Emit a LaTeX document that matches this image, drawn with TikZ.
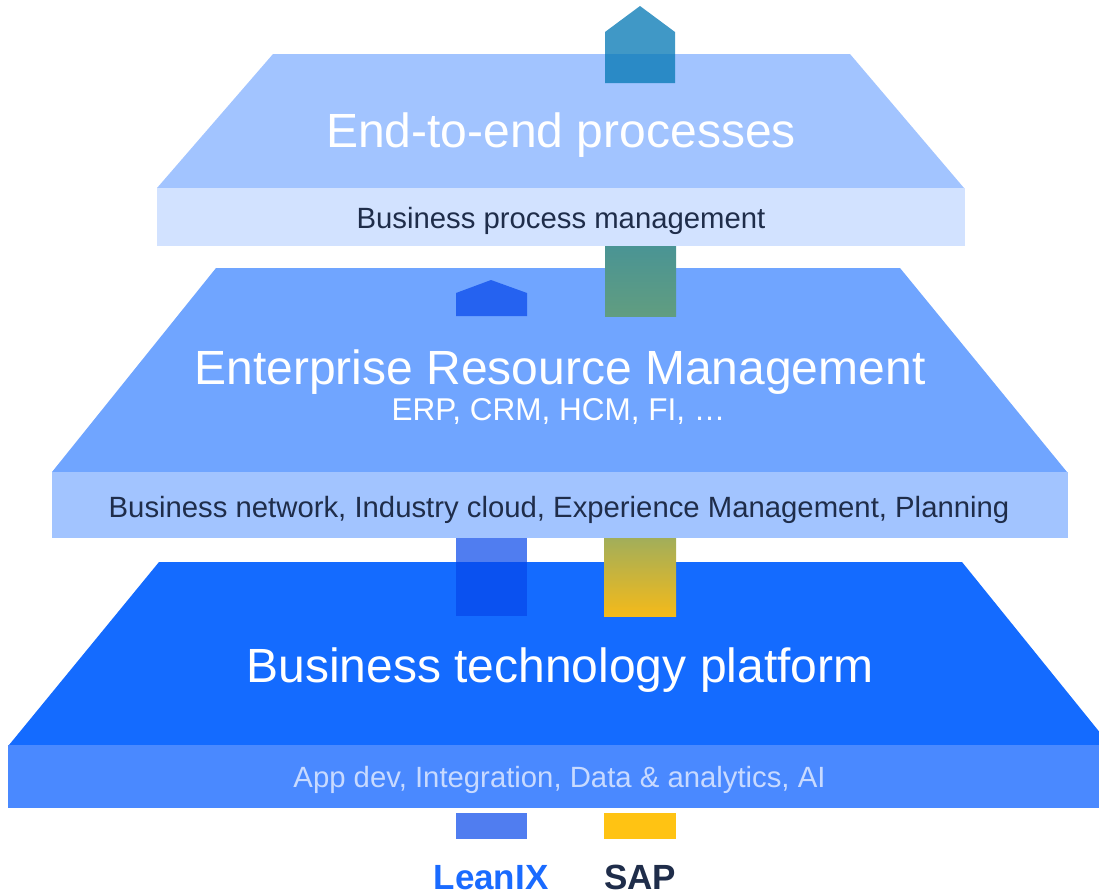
\documentclass[tikz,border=0pt]{standalone}
\usepackage{fontspec}
\setmainfont{Liberation Sans}
\definecolor{trapA}{HTML}{A2C4FF}
\definecolor{bandA}{HTML}{D2E2FF}
\definecolor{trapB}{HTML}{70A5FF}
\definecolor{bandB}{HTML}{A2C4FF}
\definecolor{trapC}{HTML}{146BFF}
\definecolor{bandC}{HTML}{4A89FF}
\definecolor{darktext}{HTML}{1F2D4A}
\definecolor{lighttext}{HTML}{C8DAFF}
\definecolor{leanblue}{RGB}{6,70,234}
\definecolor{leanlabel}{HTML}{1A6BFF}
\definecolor{sapteal}{RGB}{7,121,181}
\definecolor{greentop}{HTML}{4A9494}
\definecolor{greenbot}{HTML}{619D80}
\definecolor{olivetop}{HTML}{A2AE5A}
\definecolor{yellowbot}{HTML}{F4BA1A}
\definecolor{sapyellow}{HTML}{FFC313}
\begin{document}
\begin{tikzpicture}[x=1pt,y=-1pt,
  txt/.style={inner sep=0pt,anchor=base},
  bigtxt/.style={txt,text=white,font=\fontsize{48}{52}\selectfont},
  bandtxt/.style={txt,text=darktext,font=\fontsize{29.3}{33}\selectfont},
  lean/.style={fill=leanblue,fill opacity=0.7},
  labeltxt/.style={txt,text depth=0pt,font=\fontsize{35}{39}\selectfont\bfseries}]
\useasboundingbox (0,0) rectangle (1099,895);
\clip (0,0) rectangle (1099,895);
% top layer
\fill[trapA] (273,54) -- (850,54) -- (964,188) -- (157,188) -- cycle;
\fill[bandA] (157,188) rectangle (965,246);
% middle layer
\fill[trapB] (216,268) -- (900,268) -- (1067,472) -- (52,472) -- cycle;
\fill[bandB] (52,472) rectangle (1068,538);
% bottom layer
\fill[trapC] (159,562) -- (962,562) -- (1110,745) -- (9,745) -- cycle;
\fill[bandC] (8,745) rectangle (1110,808);
% SAP path
\fill[sapteal,fill opacity=0.77] (605,83) -- (605,32) -- (640,6) -- (675,32) -- (675,83) -- cycle;
\shade[top color=greentop,bottom color=greenbot] (605,246) rectangle (676,316);
\shade[top color=olivetop,bottom color=yellowbot] (604,538) rectangle (676,616);
\fill[sapyellow] (604,813) rectangle (676,839);
% LeanIX path
\fill[lean] (456,316) -- (456,293) -- (491,280) -- (527,293) -- (527,316) -- cycle;
\fill[lean] (456,538) rectangle (527,616);
\fill[lean] (456,813) rectangle (527,839);
% texts
\node[bigtxt] (e2e) at (561,147) {End-to-end processes};
\node[bandtxt] (bpm) at (561,228) {Business process management};
\node[bigtxt] (erm) at (560,384) {Enterprise Resource Management};
\node[txt,text=white,font=\fontsize{31.5}{34}\selectfont] (erp) at (558.5,420) {ERP, CRM, HCM, FI, …};
\node[bandtxt] (bn) at (559,517) {Business network, Industry cloud, Experience Management, Planning};
\node[bigtxt] (btp) at (560,682) {Business technology platform};
\node[txt,text=lighttext,font=\fontsize{29.3}{33}\selectfont] (app) at (559.5,787) {App dev, Integration, Data \& analytics, AI};
\node[labeltxt,text=leanlabel] (leanix) at (491,889) {LeanIX};
\node[labeltxt,text=darktext] (sap) at (640,889) {SAP};
\end{tikzpicture}
\end{document}
